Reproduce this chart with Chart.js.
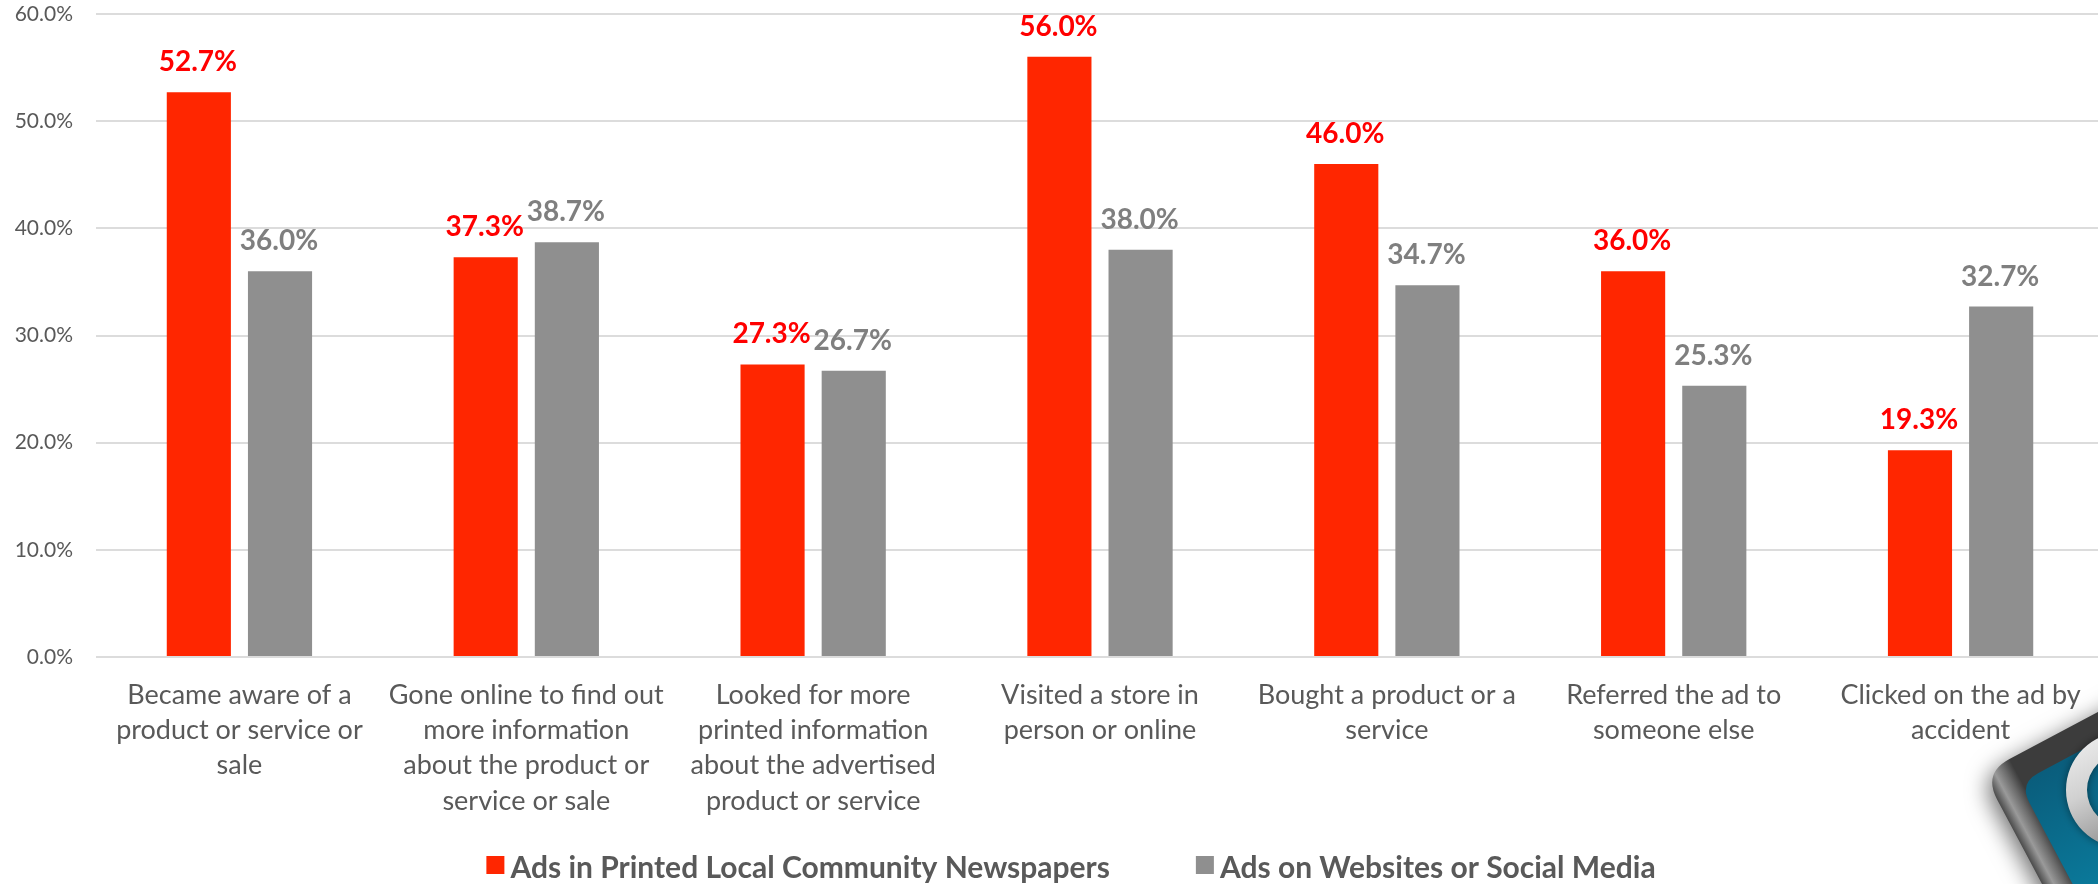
<!DOCTYPE html>
<html>
<head>
<meta charset="utf-8">
<script src="https://cdn.jsdelivr.net/npm/chart.js@4.4.1/dist/chart.umd.min.js"></script>
<style>
  html, body { margin: 0; padding: 0; background: #ffffff; overflow: hidden; }
  #wrap { width: 2104px; height: 884px; }
</style>
</head>
<body>
<div id="wrap"><canvas id="c" width="2104" height="884"></canvas></div>
<script>
// Categories (multi-line axis labels)
const categories = [
  ["Became aware of a", "product or service or", "sale"],
  ["Gone online to find out", "more information", "about the product or", "service or sale"],
  ["Looked for more", "printed information", "about the advertised", "product or service"],
  ["Visited a store in", "person or online"],
  ["Bought a product or a", "service"],
  ["Referred the ad to", "someone else"],
  ["Clicked on the ad by", "accident"]
];

// Series names
const seriesNames = [
  "Ads in Printed Local Community Newspapers",
  "Ads on Websites or Social Media"
];

// Percent values per category
const printedValues = [52.7, 37.3, 27.3, 56.0, 46.0, 36.0, 19.3];
const webValues     = [36.0, 38.7, 26.7, 38.0, 34.7, 25.3, 32.7];

// Y axis tick values
const yTicks = [0, 10, 20, 30, 40, 50, 60];

const FONT = "Lato, 'Open Sans', 'DejaVu Sans', sans-serif";
const barColors   = ["#FF2600", "#8F8F8F"];
const labelColors = ["#FF0000", "#7F7F7F"];

// Value labels above each bar
const valueLabels = {
  id: "valueLabels",
  afterDatasetsDraw(chart) {
    const ctx = chart.ctx;
    ctx.save();
    ctx.font = "bold 28px " + FONT;
    ctx.textAlign = "center";
    ctx.textBaseline = "alphabetic";
    chart.data.datasets.forEach((ds, di) => {
      const meta = chart.getDatasetMeta(di);
      ctx.fillStyle = labelColors[di];
      meta.data.forEach((bar, i) => {
        ctx.fillText(ds.data[i].toFixed(1) + "%", bar.x - 1, bar.y - 21);
      });
    });
    ctx.restore();
  }
};

// Legend row under the axis labels
const bottomLegend = {
  id: "bottomLegend",
  afterDraw(chart) {
    const ctx = chart.ctx;
    ctx.save();
    ctx.font = "bold 30px " + FONT;
    ctx.textBaseline = "alphabetic";
    const box = 18, gap = 6, spacing = 86;
    const widths = chart.data.datasets.map(ds => ctx.measureText(ds.label).width);
    const total = widths.reduce((a, w) => a + box + gap + w, 0) + spacing * (widths.length - 1);
    let x = 1071 - total / 2;
    const boxTop = 856, baseline = 878;
    chart.data.datasets.forEach((ds, i) => {
      ctx.fillStyle = ds.backgroundColor;
      ctx.fillRect(x, boxTop, box, box);
      ctx.fillStyle = "#595959";
      ctx.fillText(ds.label, x + box + gap, baseline);
      x += box + gap + widths[i] + spacing;
    });
    ctx.restore();
  }
};

// Corner badge (partly off the canvas edge)
const cornerBadge = {
  id: "cornerBadge",
  afterDraw(chart) {
    const ctx = chart.ctx;
    ctx.save();
    ctx.translate(1983, 773);
    ctx.rotate(-28 * Math.PI / 180);
    function rr(x, y, w, h, r) {
      ctx.beginPath();
      ctx.moveTo(x + r, y);
      ctx.lineTo(x + w - r, y);
      ctx.quadraticCurveTo(x + w, y, x + w, y + r);
      ctx.lineTo(x + w, y + h - r);
      ctx.quadraticCurveTo(x + w, y + h, x + w - r, y + h);
      ctx.lineTo(x + r, y + h);
      ctx.quadraticCurveTo(x, y + h, x, y + h - r);
      ctx.lineTo(x, y + r);
      ctx.quadraticCurveTo(x, y, x + r, y);
      ctx.closePath();
    }
    ctx.shadowColor = "rgba(0,0,0,0.55)";
    ctx.shadowBlur = 22;
    ctx.shadowOffsetX = -4;
    ctx.shadowOffsetY = 6;
    const rim = ctx.createLinearGradient(0, 0, 30, 0);
    rim.addColorStop(0, "#4a4a4a");
    rim.addColorStop(0.35, "#9a9a9a");
    rim.addColorStop(0.7, "#6a6a6a");
    rim.addColorStop(1, "#3c3c3c");
    ctx.fillStyle = rim;
    rr(0, 0, 320, 320, 30);
    ctx.fill();
    ctx.shadowColor = "transparent";
    const face = ctx.createLinearGradient(26, 26, 26, 200);
    face.addColorStop(0, "#0a5d7c");
    face.addColorStop(1, "#0a84a6");
    ctx.fillStyle = face;
    rr(27, 26, 293, 294, 22);
    ctx.fill();
    ctx.restore();

    ctx.save();
    const cx = 2124, cy = 790;
    const ring = ctx.createLinearGradient(cx - 60, cy - 60, cx, cy + 60);
    ring.addColorStop(0, "#f4f4f4");
    ring.addColorStop(0.5, "#d0d0d0");
    ring.addColorStop(1, "#8a8a8a");
    ctx.beginPath();
    ctx.arc(cx, cy, 58, 0, Math.PI * 2);
    ctx.arc(cx, cy, 37, 0, Math.PI * 2, true);
    ctx.fillStyle = ring;
    ctx.shadowColor = "rgba(0,0,0,0.45)";
    ctx.shadowBlur = 8;
    ctx.fill();
    ctx.restore();
  }
};

new Chart(document.getElementById("c"), {
  type: "bar",
  data: {
    labels: categories,
    datasets: [
      { label: seriesNames[0], data: printedValues, backgroundColor: barColors[0] },
      { label: seriesNames[1], data: webValues, backgroundColor: barColors[1] }
    ]
  },
  options: {
    responsive: false,
    animation: false,
    devicePixelRatio: 1,
    layout: { padding: { top: 14, bottom: 0, left: 0, right: 0 } },
    datasets: { bar: { categoryPercentage: 0.566, barPercentage: 0.79 } },
    plugins: {
      legend: { display: false },
      tooltip: { enabled: false }
    },
    scales: {
      x: {
        grid: { display: false },
        border: { display: false },
        ticks: {
          autoSkip: false,
          maxRotation: 0,
          minRotation: 0,
          padding: 13,
          color: "#595959",
          font: { family: FONT, size: 27, lineHeight: 1.3 }
        },
        afterFit(scale) { scale.height = 227; }
      },
      y: {
        min: 0,
        max: 60,
        afterBuildTicks(scale) { scale.ticks = yTicks.map(v => ({ value: v })); },
        grid: {
          color: "#DCDCDC",
          lineWidth: 2,
          drawTicks: true,
          tickLength: 23,
          tickColor: "rgba(0,0,0,0)"
        },
        border: { display: false },
        ticks: {
          padding: 0,
          color: "#595959",
          font: { family: FONT, size: 21 },
          callback: v => v.toFixed(1) + "%"
        },
        afterFit(scale) { scale.width = 96; }
      }
    }
  },
  plugins: [valueLabels, bottomLegend, cornerBadge]
});
</script>
</body>
</html>
